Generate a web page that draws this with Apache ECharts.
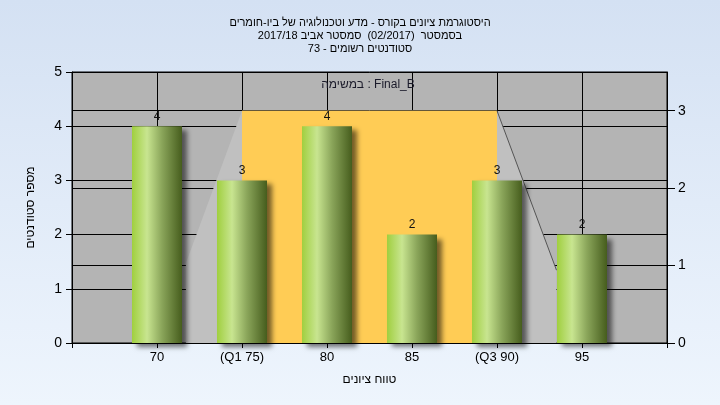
<!DOCTYPE html>
<html>
<head>
<meta charset="utf-8">
<script src="https://cdn.jsdelivr.net/npm/echarts@6/dist/echarts.min.js"></script>
<style>
html,body{margin:0;padding:0;width:720px;height:405px;overflow:hidden;}
#chart{width:720px;height:405px;}
</style>
</head>
<body>
<div id="chart"></div>
<script>
// ---- data ----
const titleLines = [
  'היסטוגרמת ציונים בקורס - מדע וטכנולוגיה של ביו-חומרים',
  'בסמסטר  (02/2017)  סמסטר אביב 2017/18',
  'סטודנטים רשומים - 73'
];
const seriesLabel = 'במשימה : Final_B';
const yAxisName = 'מספר סטודנטים';
const xAxisName = 'טווח ציונים';
const categories = [70, 75, 80, 85, 90, 95];
const tickLabels = ['70', '(Q1 75)', '80', '85', '(Q3 90)', '95'];
const counts = [4, 3, 4, 2, 3, 2];
// spread shape (light grey) on right axis, x in grade units
const spreadX = [71.7, 71.7, 75, 90, 93.5, 93.5];
const spreadY = [0, 1.03, 3, 3, 0.94, 0];
// quartile box (orange)
const boxX = [75, 90];
const boxY = [0, 3];

const FONT = 'Liberation Sans, DejaVu Sans, sans-serif';
const labelMap = {};
categories.forEach((c, i) => { labelMap[c] = tickLabels[i]; });

const chart = echarts.init(document.getElementById('chart'), null, {renderer: 'canvas'});

const barGradient = new echarts.graphic.LinearGradient(0, 0, 1, 0, [
  {offset: 0, color: '#a0cf3f'},
  {offset: 0.3, color: '#c8e590'},
  {offset: 0.6, color: '#8aa55a'},
  {offset: 1, color: '#465d1d'}
]);

const option = {
  backgroundColor: new echarts.graphic.LinearGradient(0, 0, 0, 1, [
    {offset: 0, color: '#d4e1f3'},
    {offset: 1, color: '#eef5fd'}
  ]),
  animation: false,
  title: {
    text: titleLines.join('\n'),
    left: 'center',
    top: 11,
    textStyle: {fontFamily: FONT, fontSize: 11, fontWeight: 'normal', color: '#000', lineHeight: 13}
  },
  graphic: [{
    type: 'text',
    x: 368, y: 85,
    style: {text: seriesLabel, fontFamily: FONT, fontSize: 12, fill: '#1a1a2a', textAlign: 'center', textVerticalAlign: 'middle'},
    z: 100
  }],
  grid: {
    left: 72, right: 53, top: 72, bottom: 62,
    show: true, backgroundColor: '#b4b4b4', borderColor: '#000', borderWidth: 1
  },
  xAxis: {
    type: 'value', min: 65, max: 100, interval: 5,
    name: xAxisName, nameLocation: 'middle', nameGap: 31,
    nameTextStyle: {fontFamily: FONT, fontSize: 12, color: '#000'},
    axisLine: {show: true, lineStyle: {color: '#000'}},
    axisTick: {show: true, length: 5, lineStyle: {color: '#000'}},
    axisLabel: {fontFamily: FONT, fontSize: 13, color: '#000', margin: 8,
      formatter: v => labelMap[v] || ''},
    splitLine: {show: true, lineStyle: {color: '#000', width: 1}}
  },
  yAxis: [{
    type: 'value', min: 0, max: 5, interval: 1, position: 'left',
    name: yAxisName, nameLocation: 'middle', nameGap: 35, nameRotate: 90,
    nameTextStyle: {fontFamily: FONT, fontSize: 12, color: '#000'},
    axisLine: {show: true, lineStyle: {color: '#000'}},
    axisTick: {show: true, length: 6, lineStyle: {color: '#000'}},
    axisLabel: {fontFamily: FONT, fontSize: 14, color: '#000', margin: 10},
    splitLine: {show: true, lineStyle: {color: '#000', width: 1}}
  }, {
    type: 'value', min: 0, max: 3.5, interval: 1, position: 'right',
    axisLine: {show: true, lineStyle: {color: '#000'}},
    axisTick: {show: true, length: 8, lineStyle: {color: '#000'}, customValues: [0, 1, 2, 3]},
    axisLabel: {fontFamily: FONT, fontSize: 14, color: '#000', margin: 11, customValues: [0, 1, 2, 3]},
    splitLine: {show: true, lineStyle: {color: '#000', width: 1}}
  }],
  series: [{
    type: 'custom',
    yAxisIndex: 1,
    z: 1,
    silent: true,
    clip: true,
    data: [[boxX[0], boxY[1]]],
    renderItem: function (params, api) {
      const pts = spreadX.map((x, i) => api.coord([x, spreadY[i]]));
      const b0 = api.coord([boxX[0], boxY[1]]);
      const b1 = api.coord([boxX[1], boxY[0]]);
      return {
        type: 'group',
        children: [{
          type: 'polygon',
          shape: {points: pts},
          style: {fill: '#c0c0c0', stroke: null}
        }, {
          type: 'rect',
          shape: {x: b0[0], y: b0[1], width: b1[0] - b0[0], height: b1[1] - b0[1]},
          style: {fill: '#ffcc55'}
        }, {
          type: 'line',
          shape: {x1: pts[3][0], y1: pts[3][1], x2: pts[4][0], y2: pts[4][1]},
          style: {stroke: '#555', lineWidth: 1}
        }]
      };
    }
  }, {
    type: 'bar',
    yAxisIndex: 0,
    z: 3,
    barWidth: 50,
    data: categories.map((c, i) => [c, counts[i]]),
    itemStyle: {
      color: barGradient,
      shadowColor: 'rgba(0,0,0,0.55)',
      shadowBlur: 5,
      shadowOffsetX: 5,
      shadowOffsetY: 4
    },
    label: {
      show: true, position: 'top', distance: 4,
      fontFamily: FONT, fontSize: 12, color: '#111',
      formatter: p => String(p.value[1])
    }
  }]
};
chart.setOption(option);
</script>
</body>
</html>
